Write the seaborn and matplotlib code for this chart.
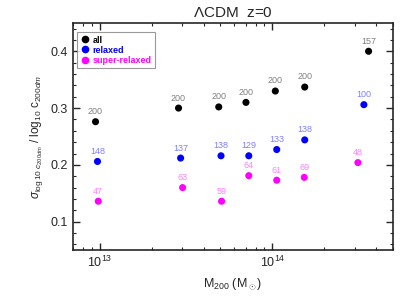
import numpy as np
import pandas as pd
import matplotlib
matplotlib.use('Agg')
import matplotlib.pyplot as plt
import seaborn as sns
from matplotlib.ticker import MultipleLocator, LogLocator, NullFormatter

# data
mass_all = [9.45e12, 2.86e13, 4.89e13, 7.03e13, 1.04e14, 1.54e14, 3.61e14]
sig_all = [0.276, 0.300, 0.302, 0.310, 0.330, 0.337, 0.400]
n_all = [200, 200, 200, 200, 200, 200, 157]

mass_rel = [9.7e12, 2.94e13, 5.04e13, 7.3e13, 1.06e14, 1.54e14, 3.39e14]
sig_rel = [0.206, 0.212, 0.216, 0.216, 0.227, 0.244, 0.306]
n_rel = [148, 137, 138, 129, 133, 138, 100]

mass_sup = [9.8e12, 3.02e13, 5.08e13, 7.3e13, 1.06e14, 1.53e14, 3.13e14]
sig_sup = [0.136, 0.160, 0.136, 0.181, 0.173, 0.178, 0.204]
n_sup = [47, 63, 59, 64, 61, 69, 48]

groups = ['all', 'relaxed', 'super-relaxed']
colors = {'all': 'black', 'relaxed': '#0000ff', 'super-relaxed': '#ff00ff'}
label_colors = {'all': '#808080', 'relaxed': '#8080ff', 'super-relaxed': '#ff80ff'}

df = pd.concat([
    pd.DataFrame({'M': mass_all, 'sig': sig_all, 'n': n_all, 'sample': 'all'}),
    pd.DataFrame({'M': mass_rel, 'sig': sig_rel, 'n': n_rel, 'sample': 'relaxed'}),
    pd.DataFrame({'M': mass_sup, 'sig': sig_sup, 'n': n_sup, 'sample': 'super-relaxed'}),
], ignore_index=True)

sns.set_style('ticks')
plt.rcParams['font.family'] = ['Liberation Sans', 'DejaVu Sans']
plt.rcParams['mathtext.fontset'] = 'custom'
plt.rcParams['mathtext.rm'] = 'Liberation Sans'
plt.rcParams['mathtext.it'] = 'Liberation Sans:italic'

fig = plt.figure(figsize=(4.15, 2.97), dpi=100)
ax = fig.add_axes([0.176, 0.158, 0.771, 0.765])

sns.scatterplot(data=df, x='M', y='sig', hue='sample', hue_order=groups,
                palette=colors, s=26, edgecolor='none', ax=ax, legend=False)

for _, r in df.iterrows():
    ax.annotate(str(r['n']), (r['M'], r['sig']), xytext=(0, 4),
                textcoords='offset points', ha='center', va='bottom',
                fontsize=6.5, color=label_colors[r['sample']])

ax.set_xscale('log')
ax.set_xlim(7e12, 5e14)
ax.set_ylim(0.05, 0.45)
ax.yaxis.set_major_locator(MultipleLocator(0.1))
ax.yaxis.set_minor_locator(MultipleLocator(0.02))
ax.xaxis.set_major_locator(LogLocator(base=10, numticks=10))
ax.xaxis.set_minor_locator(LogLocator(base=10, subs=np.arange(2, 10), numticks=10))
ax.xaxis.set_minor_formatter(NullFormatter())
ax.tick_params(which='both', direction='in', top=True, right=True, labelsize=9)
ax.tick_params(which='major', length=5, width=1)
ax.tick_params(which='minor', length=2.5, width=0.8)
for sp in ax.spines.values():
    sp.set_linewidth(1.2)

ax.set_title(r'$\Lambda$CDM  z=0', fontsize=11, pad=4)
ax.set_xlabel(r'M$_{200}$ (M$_\odot$)', fontsize=9)
ax.set_ylabel(r'$\sigma_{\log10\ c_{200dm}}$ / log$_{10}$ c$_{200dm}$', fontsize=8.5)

# legend built by hand
handles = [plt.Line2D([], [], marker='o', ls='', color=colors[g], markersize=4.5) for g in groups]
leg = ax.legend(handles, groups, loc='upper left', fontsize=6.5, handletextpad=0.3,
                handlelength=1, borderpad=0.4, labelspacing=0.12, fancybox=False,
                edgecolor='#808080', borderaxespad=0, bbox_to_anchor=(0.013, 0.96))
leg.get_frame().set_linewidth(0.8)
for t, g in zip(leg.get_texts(), groups):
    t.set_color(colors[g])
    t.set_fontweight('bold')

fig.savefig('out.png', dpi=100)
